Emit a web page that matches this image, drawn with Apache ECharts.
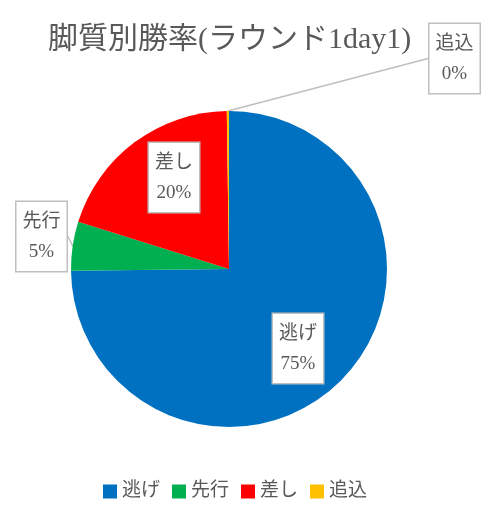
<!DOCTYPE html>
<html>
<head>
<meta charset="utf-8">
<script src="https://cdn.jsdelivr.net/npm/echarts@6/dist/echarts.min.js"></script>
<style>
html,body{margin:0;padding:0;background:#fff;}
#chart{width:488px;height:512px;}
</style>
</head>
<body>
<div id="chart"></div>
<script>
// ---- data ----
const titleText = '脚質別勝率(ラウンド1day1)';
const categories = ['逃げ', '先行', '差し', '追込'];
const values = [75, 5, 20, 0];
const colors = ['#0070C0', '#00B050', '#FF0000', '#FFC000'];

// ---- layout (callout box center-x / top positions) ----
const labelBoxes = [[298, 314], [41.5, 202], [174, 143], [454.5, 24]];

const FONT = "'Liberation Serif', 'Noto Sans CJK JP', serif";
const chart = echarts.init(document.getElementById('chart'), null, {renderer: 'canvas'});
chart.setOption({
  backgroundColor: '#fff',
  animation: false,
  title: {
    text: titleText,
    left: 43,
    top: 20,
    textStyle: {fontFamily: FONT, fontSize: 30, fontWeight: 'normal', color: '#595959'}
  },
  legend: {
    bottom: 6,
    left: 98,
    icon: 'rect',
    itemWidth: 14,
    itemHeight: 14,
    itemGap: 12,
    textStyle: {fontFamily: FONT, fontSize: 19, color: '#595959'},
    data: categories
  },
  series: [{
    type: 'pie',
    center: [229, 269],
    radius: 158,
    startAngle: 90,
    clockwise: true,
    minAngle: 0.8,
    avoidLabelOverlap: false,
    itemStyle: {borderWidth: 0},
    label: {
      show: true,
      position: 'outside',
      formatter: '{b}\n{d}%',
      fontFamily: FONT,
      fontSize: 19,
      lineHeight: 30,
      color: '#595959',
      backgroundColor: '#fff',
      borderColor: '#bfbfbf',
      borderWidth: 1.5,
      padding: [5, 6, 4, 6],
      align: 'center'
    },
    labelLine: {
      show: true,
      length: 5,
      length2: 0,
      lineStyle: {color: '#bfbfbf', width: 1.5}
    },
    labelLayout: function (p) {
      const b = labelBoxes[p.dataIndex];
      return {x: b[0], y: b[1], align: 'center', verticalAlign: 'top'};
    },
    emphasis: {disabled: true},
    data: categories.map((c, i) => ({name: c, value: values[i], itemStyle: {color: colors[i]}}))
  }]
});
</script>
</body>
</html>
